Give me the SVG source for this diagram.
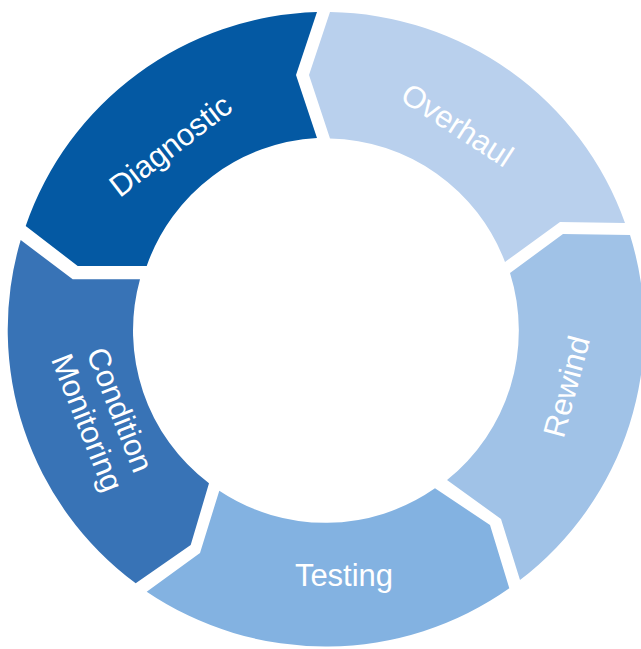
<svg xmlns="http://www.w3.org/2000/svg" width="641" height="649" viewBox="0 0 641 649">
<style>
.lbl{font-family:"Liberation Sans",Arial,sans-serif;font-size:31px;fill:#ffffff;text-anchor:middle}
</style>
<rect width="641" height="649" fill="#ffffff"/>
<g id="diagnostic">
<path d="M25.7,226 A318,316.5 0 0 1 317,12 L296,75 L317,138 A191.5,191.5 0 0 0 146.7,266 L77.7,266 Z" fill="#0459a3"/>
<text class="lbl" transform="translate(176.9,153.9) rotate(-37.7)">Diagnostic</text>
</g>
<g id="overhaul">
<path d="M330,12 A318,316.5 0 0 1 625,223 L560,222 L505,262 A191.5,191.5 0 0 0 330,138.5 L309,75 Z" fill="#b9d0ed"/>
<text class="lbl" transform="translate(451.5,133.9) rotate(33)">Overhaul</text>
</g>
<g id="rewind">
<path d="M630,235 A318,316.5 0 0 1 520,580 L501,519 L447,480 A191.5,191.5 0 0 0 510,273 L563,234 Z" fill="#a0c2e7"/>
<text class="lbl" transform="translate(576.8,389.3) rotate(-75)">Rewind</text>
</g>
<g id="testing">
<path d="M509.3,588.3 A318,316.5 0 0 1 146.7,591.7 L200,553 L219.3,490.7 A191.5,191.5 0 0 0 435,488.3 L490,525 Z" fill="#83b2e1"/>
<text class="lbl" x="344" y="585.5">Testing</text>
</g>
<g id="condition-monitoring">
<path d="M135.7,583.3 A318,316.5 0 0 1 20.7,240 L72.7,279.3 L140,279.3 A191.5,191.5 0 0 0 209,483.3 L190.7,545 Z" fill="#3873b6"/>
<text class="lbl" transform="translate(110,413.6) rotate(68.4)"><tspan x="0" y="0">Condition</tspan><tspan x="0" y="35">Monitoring</tspan></text>
</g>
<g id="connectors"/>
</svg>
